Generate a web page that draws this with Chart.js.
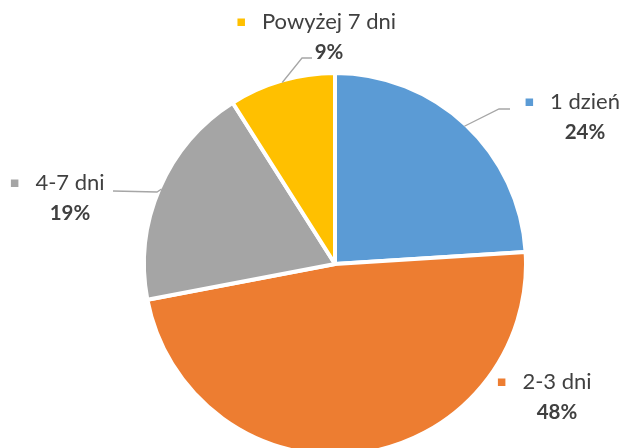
<!DOCTYPE html>
<html>
<head>
<meta charset="utf-8">
<script src="https://cdn.jsdelivr.net/npm/chart.js@4/dist/chart.umd.min.js"></script>
<style>
  html, body { margin: 0; padding: 0; background: #ffffff; }
  #wrap { width: 621px; height: 448px; position: relative; }
</style>
</head>
<body>
<div id="wrap"><canvas id="c" width="621" height="448"></canvas></div>
<script>
const categories = ['1 dzień', '2-3 dni', '4-7 dni', 'Powyżej 7 dni'];
const values = [24, 48, 19, 9];
const percentLabels = ['24%', '48%', '19%', '9%'];
const colors = ['#5B9BD5', '#ED7D31', '#A5A5A5', '#FFC000'];

// label layout: text centre (x, y) and optional leader-line elbow
const labelLayout = [
  { cx: 585, cy: 102, elbow: [499, 109], end: [510, 109] },
  { cx: 557, cy: 382, elbow: null, end: null },
  { cx: 70,  cy: 183, elbow: [157, 192], end: [113, 191] },
  { cx: 329, cy: 22,  elbow: [302, 58], end: [312, 58] }
];

const FONT = 'Lato, "Open Sans", sans-serif';

const labelPlugin = {
  id: 'pieLabels',
  afterDatasetsDraw(chart) {
    const ctx = chart.ctx;
    const meta = chart.getDatasetMeta(0);
    ctx.save();
    meta.data.forEach((arc, i) => {
      const L = labelLayout[i];
      if (L.elbow) {
        const mid = (arc.startAngle + arc.endAngle) / 2;
        const r = arc.outerRadius - 2;
        const sx = arc.x + Math.cos(mid) * r;
        const sy = arc.y + Math.sin(mid) * r;
        ctx.strokeStyle = '#A6A6A6';
        ctx.lineWidth = 1.3;
        ctx.beginPath();
        ctx.moveTo(sx, sy);
        ctx.lineTo(L.elbow[0], L.elbow[1]);
        ctx.lineTo(L.end[0], L.end[1]);
        ctx.stroke();
      }
      ctx.font = '22px ' + FONT;
      ctx.fillStyle = '#404040';
      ctx.textBaseline = 'middle';
      ctx.textAlign = 'center';
      ctx.fillText(categories[i], L.cx, L.cy);
      const w = ctx.measureText(categories[i]).width;
      ctx.fillStyle = colors[i];
      ctx.fillRect(L.cx - w / 2 - 24.5, L.cy - 3.5, 7.5, 7.5);
      ctx.font = 'bold 20.5px ' + FONT;
      ctx.fillStyle = '#404040';
      ctx.fillText(percentLabels[i], L.cx, L.cy + 30);
    });
    ctx.restore();
  }
};

new Chart(document.getElementById('c'), {
  type: 'pie',
  data: {
    labels: categories,
    datasets: [{
      data: values,
      backgroundColor: colors,
      borderColor: '#ffffff',
      borderWidth: 4,
      clip: false
    }]
  },
  options: {
    responsive: false,
    animation: false,
    radius: 191,
    layout: { padding: { left: 49, top: 80 } },
    plugins: {
      legend: { display: false },
      tooltip: { enabled: false }
    }
  },
  plugins: [labelPlugin]
});
</script>
</body>
</html>
